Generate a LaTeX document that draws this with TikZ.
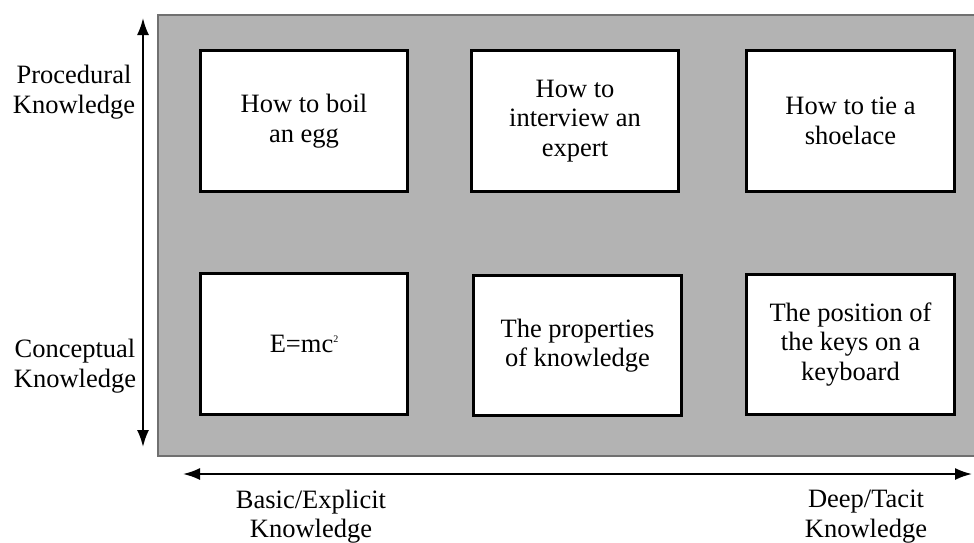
\documentclass[tikz,border=0pt]{standalone}
\usepackage{fontspec}
\setmainfont{Liberation Serif}
\usepackage{xcolor}
\usetikzlibrary{arrows.meta,positioning}

\definecolor{panelgray}{RGB}{179,179,179}
\definecolor{paneledge}{RGB}{112,112,112}

% small raised digit for the formula
\newcommand{\tinysup}[1]{\raisebox{10.5pt}{\fontsize{10}{10}\selectfont #1}}

\begin{document}
\begin{tikzpicture}[
x=1pt,
y=-1pt,
panel/.style={
  fill=panelgray,
  draw=paneledge,
  line width=1.2pt
  },
item/.style={
  draw,
  fill=white,
  line width=2.6pt,
  minimum width=207.5pt,
  minimum height=140.5pt,
  inner sep=0pt,
  align=center,
  font=\fontsize{26.5}{29.5}\selectfont
  },
axislabel/.style={
  inner sep=0pt,
  align=center,
  font=\fontsize{26.5}{29.5}\selectfont
  },
axis/.style={
  <->,
  line width=2pt
  },
>={Latex[length=17pt,width=12pt]}
]
\useasboundingbox (0,0) rectangle (974,542);

% grey panel behind the boxes
\draw[panel] (158,15) rectangle (990,456);

% top row: procedural
\node[item] (egg)       at (304,121)   {How to boil\\an egg};
\node[item] (interview) at (575,121)   {How to\\interview an\\expert};
\node[item] (shoelace)  at (850.5,121) {How to tie a\\shoelace};
% bottom row: conceptual
\node[item] (emc)       at (304,344)   {E=mc\tinysup{2}};
\node[item] (props)     at (577.5,345.5) {The properties\\of knowledge};
\node[item] (keys)      at (850.5,344.5) {The position of\\the keys on a\\keyboard};

% axes
\coordinate (vtop) at (143,18);
\coordinate (vbot) at (143,447);
\coordinate (hleft) at (183,474);
\coordinate (hright) at (972,474);
\draw[axis] (vbot) -- (vtop);
\draw[axis] (hleft) -- (hright);

\node[axislabel] (proc) at (74,92)    {Procedural\\Knowledge};
\node[axislabel] (conc) at (75,366)   {Conceptual\\Knowledge};
\node[axislabel] (basic) at (311,516.5) {Basic/Explicit\\Knowledge};
\node[axislabel] (deep) at (866,516.5)  {Deep/Tacit\\Knowledge};
\end{tikzpicture}
\end{document}
